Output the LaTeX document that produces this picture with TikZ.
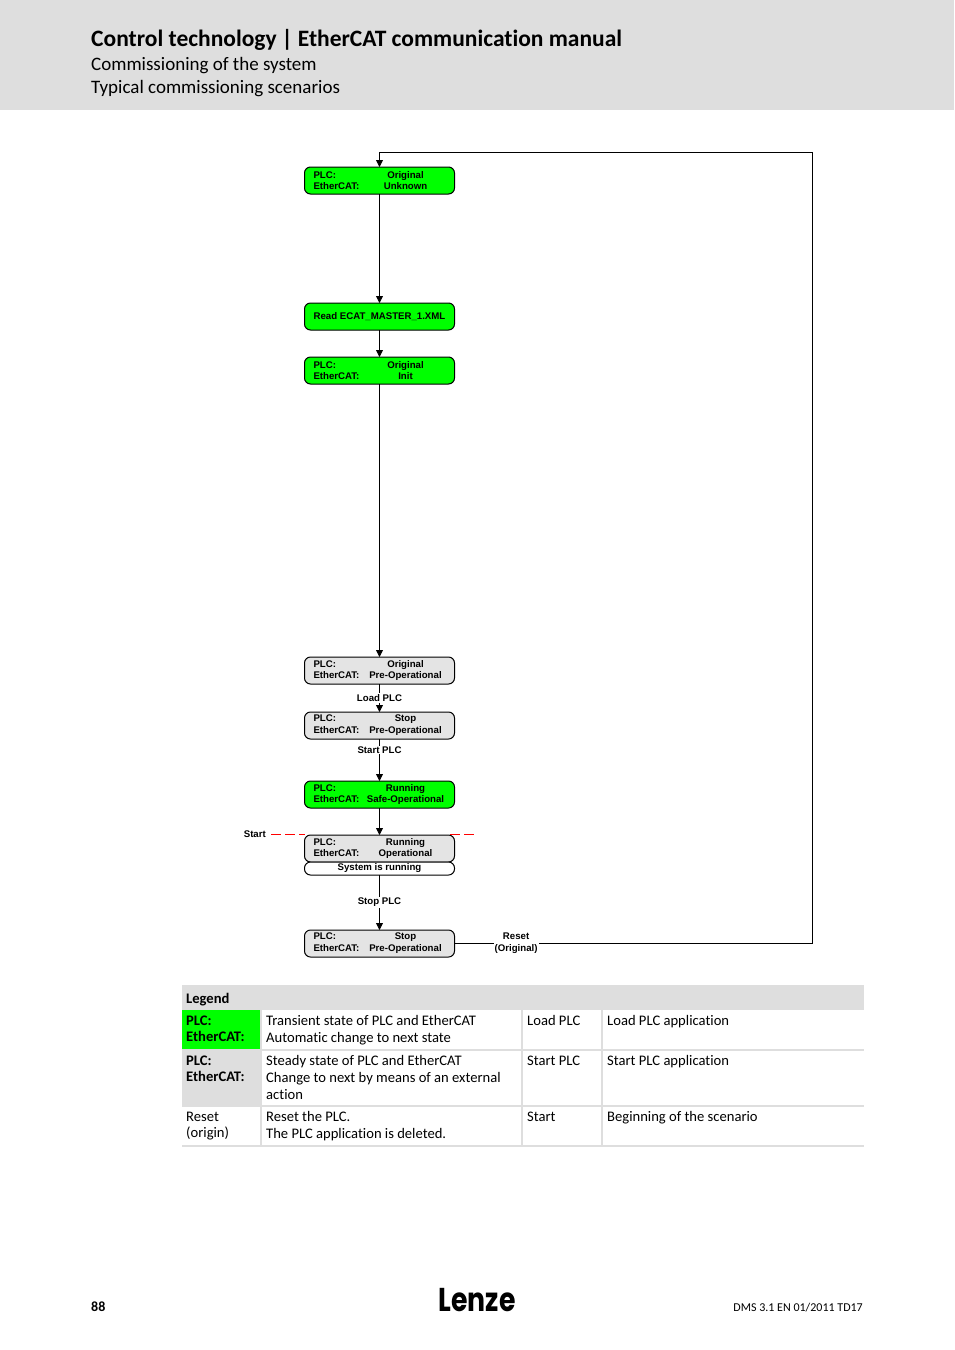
\documentclass[tikz,border=0pt]{standalone}
\usepackage{fontspec}
\setmainfont[Ligatures=NoCommon]{Carlito}
\newfontfamily\diagfont{Liberation Sans}
\newfontfamily\logofont{Poppins}
\usetikzlibrary{arrows.meta,positioning,backgrounds}
\definecolor{bandgray}{HTML}{DEDEDE}
\definecolor{stategray}{HTML}{E4E4E4}
\definecolor{stategreen}{HTML}{00FF00}
\newcommand{\stateline}[2]{\makebox[132pt][l]{\rlap{#1}\hspace{92pt}\makebox[0pt][c]{#2}}}
\newcommand{\plcstate}[2]{\stateline{PLC:}{#1}\\\stateline{EtherCAT:}{#2}}
\tikzset{
  stateblk/.style={draw,rectangle,rounded corners=6pt,minimum width=150pt,minimum height=27pt,line width=1pt,inner sep=0pt,outer sep=0pt,align=center,font=\diagfont\fontsize{9.65}{11.8}\selectfont\bfseries},
  trnblk/.style={stateblk,fill=stategreen},
  stdblk/.style={stateblk,fill=stategray},
  runblk/.style={stateblk,fill=white,minimum height=13pt},
  arr/.style={-{Triangle[length=7pt,width=7pt]},line width=0.8pt},
  lbl/.style={font=\diagfont\fontsize{9.65}{11.8}\selectfont\bfseries,align=center,fill=white,inner sep=1pt},
  startdash/.style={red,line width=1pt,dash pattern=on 10pt off 4pt},
  cell/.style={anchor=north west,inner sep=0pt,align=left,font=\fontsize{14.6}{16.6}\selectfont},
  boldcell/.style={cell,font=\fontsize{14.6}{16.6}\selectfont\bfseries},
  sepline/.style={bandgray,line width=2pt},
  titletxt/.style={anchor=west,inner sep=0pt}
}
\begin{document}
\begin{tikzpicture}[x=1pt,y=-1pt]
  \useasboundingbox (0,0) rectangle (954,1350);
  % page head
  \node[fill=bandgray,anchor=north west,minimum width=954pt,minimum height=110pt,inner sep=0pt] (band) at (0,0) {};
  \node[titletxt,font=\fontsize{23.5}{28}\selectfont\bfseries] (title) at (91,39.5) {Control technology\hspace{5pt}|\hspace{5pt}EtherCAT communication manual};
  \node[titletxt,font=\fontsize{19}{22}\selectfont] (sub1) at (91,66) {Commissioning of the system};
  \node[titletxt,font=\fontsize{19}{22}\selectfont] (sub2) at (91,89) {Typical commissioning scenarios};

  % states
  \node[trnblk] (unknown) at (379.5,180.5) {\plcstate{Original}{Unknown}};
  \node[trnblk, below=109pt of unknown] (readxml) {Read ECAT\_MASTER\_1.XML};
  \node[trnblk, below=27pt of readxml] (init) {\plcstate{Original}{Init}};
  \node[stdblk, below=273pt of init] (preop) {\plcstate{Original}{Pre-Operational}};
  \node[stdblk, below=28pt of preop] (stopa) {\plcstate{Stop}{Pre-Operational}};
  \node[trnblk, below=42pt of stopa] (safeop) {\plcstate{Running}{Safe-Operational}};
  \node[stdblk, below=27pt of safeop] (oper) {\plcstate{Running}{Operational}};
  \node[runblk, below=0pt of oper] (sysrun) {System is running};
  \node[stdblk, below=55pt of sysrun] (stopb) {\plcstate{Stop}{Pre-Operational}};

  \coordinate (loopr) at (812.5,152.5);
  \node[lbl,fill=none,anchor=east] (startlbl) at (267,834) {Start};
  \coordinate (startbeg) at (271,834);
  \coordinate (startgap) at (450,834);
  \coordinate (startend) at (474,834);

  \draw[arr] (unknown)--(readxml);
  \draw[arr] (readxml)--(init);
  \draw[arr] (init)--(preop);
  \draw[arr] (preop)-- node[lbl] {Load PLC} (stopa);
  \draw[arr] (stopa)-- node[lbl,pos=.26] {Start PLC} (safeop);
  \draw[arr] (safeop)--(oper);
  \draw[arr] (sysrun)-- node[lbl] {Stop PLC} (stopb);
  \draw[arr] (stopb.east) -| node[lbl,pos=.086] {Reset\\(Original)} (loopr) -- (unknown.north |- loopr) -- (unknown.north);
  \draw[startdash] (startbeg) -- (oper.north west |- startbeg);
  \draw[startdash] (startgap) -- (startend);

  % legend
  \node[fill=bandgray,anchor=north west,minimum width=682pt,minimum height=25pt,inner sep=0pt] (leghead) at (182,985) {};
  \node[fill=stategreen,anchor=north west,minimum width=78pt,minimum height=39pt,inner sep=0pt] (leggreen) at (182,1010) {};
  \node[fill=bandgray,anchor=north west,minimum width=78pt,minimum height=55pt,inner sep=0pt] (leggray) at (182,1050) {};
  \foreach \y in {1050,1106,1146} \draw[sepline] (182,\y) -- (864,\y);
  \foreach \x in {261,522,602} \draw[sepline] (\x,1010) -- (\x,1146);

  \node[boldcell] (legtitle) at (186,993) {Legend};
  \node[boldcell] (ca) at (186,1015.5) {PLC:\\EtherCAT:};
  \node[cell] (cb) at (266,1015.5) {Transient state of PLC and EtherCAT\\Automatic change to next state};
  \node[cell] (cc) at (527,1015.5) {Load PLC};
  \node[cell] (cd) at (607,1015.5) {Load PLC application};
  \node[boldcell] (da) at (186,1055.5) {PLC:\\EtherCAT:};
  \node[cell] (db) at (266,1055.5) {Steady state of PLC and EtherCAT\\Change to next by means of an external\\action};
  \node[cell] (dc) at (527,1055.5) {Start PLC};
  \node[cell] (dd) at (607,1055.5) {Start PLC application};
  \node[cell] (ea) at (186,1111.5) {Reset\\(origin)};
  \node[cell] (eb) at (266,1111.5) {Reset the PLC.\\The PLC application is deleted.};
  \node[cell] (ec) at (527,1111.5) {Start};
  \node[cell] (ed) at (607,1111.5) {Beginning of the scenario};

  % page foot
  \node[titletxt,font=\fontsize{14}{16}\selectfont\bfseries] (pageno) at (91,1307) {88};
  \node[inner sep=0pt,font=\logofont\fontsize{33}{33}\selectfont\bfseries] (logo) at (477,1300) {\scalebox{.81}[1]{Lenze}};
  \node[inner sep=0pt,anchor=east,font=\fontsize{12}{14}\selectfont] (docno) at (863,1308) {DMS 3.1 EN 01/2011 TD17};
\end{tikzpicture}
\end{document}
